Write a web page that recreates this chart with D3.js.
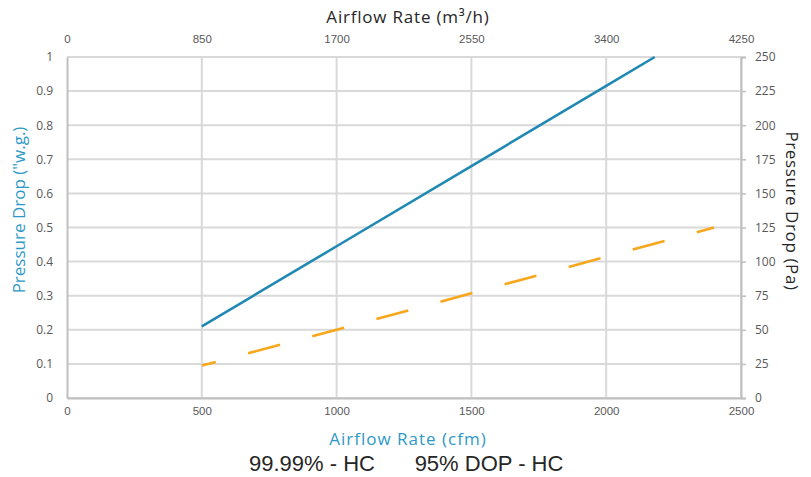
<!DOCTYPE html>
<html><head><meta charset="utf-8">
<script src="https://cdn.jsdelivr.net/npm/d3@7"></script>
<style>body{margin:0;background:#fff}svg{display:block}</style>
</head><body>
<svg id="c" width="811" height="477"></svg>
<script>
// Data
const seriesNames = ["99.99% - HC", "95% DOP - HC"];
const hcAirflow = [500, 1000, 1500, 2000, 2180];
const hcDrop = [0.21, 0.445, 0.68, 0.915, 1.0];
const dopAirflow = [500, 1000, 1500, 2000, 2400];
const dopDrop = [0.095, 0.2, 0.307, 0.414, 0.5];
const cfmTicks = [0, 500, 1000, 1500, 2000, 2500];
const m3hTicks = [0, 850, 1700, 2550, 3400, 4250];
const wgTicks = [0, 0.1, 0.2, 0.3, 0.4, 0.5, 0.6, 0.7, 0.8, 0.9, 1];
const paTicks = [0, 25, 50, 75, 100, 125, 150, 175, 200, 225, 250];

const svg = d3.select("#c");
const L = 67, R = 741, T = 57, B = 398;
const x = d3.scaleLinear().domain([0, 2500]).range([L, R]);
const xTop = d3.scaleLinear().domain([0, 4250]).range([L, R]);
const y = d3.scaleLinear().domain([0, 1]).range([B, T]);
const yR = d3.scaleLinear().domain([0, 250]).range([B, T]);

const grid = "#d9d9d9", axisCol = "#bfbfbf", tickText = "#595959";
const blue = "#2089b3", orange = "#f9a61b", titleBlue = "#2e99c6";

// gridlines
svg.append("g").selectAll("line").data(wgTicks).join("line")
  .attr("x1", L).attr("x2", R).attr("y1", d => y(d)).attr("y2", d => y(d))
  .attr("stroke", grid).attr("stroke-width", 2);
svg.append("g").selectAll("line").data(cfmTicks.slice(1)).join("line")
  .attr("x1", d => x(d)).attr("x2", d => x(d)).attr("y1", T).attr("y2", B)
  .attr("stroke", grid).attr("stroke-width", 2);

// axes
const fontTick = "'Open Sans', sans-serif";
const arial = "'Liberation Sans', Arial, sans-serif";
const gB = svg.append("g").attr("transform", `translate(0,${B})`)
  .call(d3.axisBottom(x).tickValues(cfmTicks).tickSize(0).tickPadding(9).tickFormat(d3.format("d")));
const gT = svg.append("g").attr("transform", `translate(0,${T})`)
  .call(d3.axisTop(xTop).tickValues(m3hTicks).tickSize(0).tickPadding(14).tickFormat(d3.format("d")));
const gL = svg.append("g").attr("transform", `translate(${L},0)`)
  .call(d3.axisLeft(y).tickValues(wgTicks).tickSize(0).tickPadding(14).tickFormat(d => d3.format("")(d)));
const gR = svg.append("g").attr("transform", `translate(${R},0)`)
  .call(d3.axisRight(yR).tickValues(paTicks).tickSize(5).tickPadding(9).tickFormat(d3.format("d")));
gT.select(".domain").remove();
[gB, gL, gR].forEach(g => {
  g.select(".domain").attr("stroke", axisCol).attr("stroke-width", 2);
});
gR.selectAll(".tick line").attr("stroke", axisCol).attr("stroke-width", 1.5);
[gL, gR].forEach(g => g.selectAll("text")
  .attr("fill", tickText).style("font-family", fontTick).style("font-size", "12px"));
[gB, gT].forEach(g => g.selectAll("text").attr("fill", tickText)
  .style("font-family", arial).style("font-size", "11.5px"));

// lines
const line = d3.line().x(d => x(d[0])).y(d => y(d[1]));
svg.append("path").datum(hcAirflow.map((a, i) => [a, hcDrop[i]]))
  .attr("d", line).attr("fill", "none").attr("stroke", blue).attr("stroke-width", 2.6);
svg.append("path").datum(dopAirflow.map((a, i) => [a, dopDrop[i]]))
  .attr("d", line).attr("fill", "none").attr("stroke", orange).attr("stroke-width", 2.6)
  .attr("stroke-dasharray", "33,33.4").attr("stroke-dashoffset", 18.5);

// titles
const fontTitle = "'Open Sans', sans-serif";
svg.append("text").attr("x", 408).attr("y", 23).attr("text-anchor", "middle")
  .style("font-family", fontTitle).style("font-size", "17px").style("letter-spacing", "0.8px")
  .attr("fill", "#262626").text("Airflow Rate (m³/h)");
svg.append("text").attr("x", 408).attr("y", 445).attr("text-anchor", "middle")
  .style("font-family", fontTitle).style("font-size", "17px").style("letter-spacing", "1px")
  .attr("fill", titleBlue).text("Airflow Rate (cfm)");
svg.append("text").attr("transform", "translate(25,210) rotate(-90)").attr("text-anchor", "middle")
  .style("font-family", fontTitle).style("font-size", "17px").attr("fill", titleBlue)
  .text("Pressure Drop (\"w.g.)");
svg.append("text").attr("transform", "translate(786,211) rotate(90)").attr("text-anchor", "middle")
  .style("font-family", fontTitle).style("font-size", "17px").style("letter-spacing", "0.6px")
  .attr("fill", "#262626").text("Pressure Drop (Pa)");

// legend (text only)
const legX = [312, 489];
svg.append("g").selectAll("text").data(seriesNames).join("text")
  .attr("x", (d, i) => legX[i]).attr("y", 471).attr("text-anchor", "middle")
  .style("font-family", arial).style("font-size", "22px").attr("fill", "#262626")
  .text(d => d);
</script>
</body></html>
